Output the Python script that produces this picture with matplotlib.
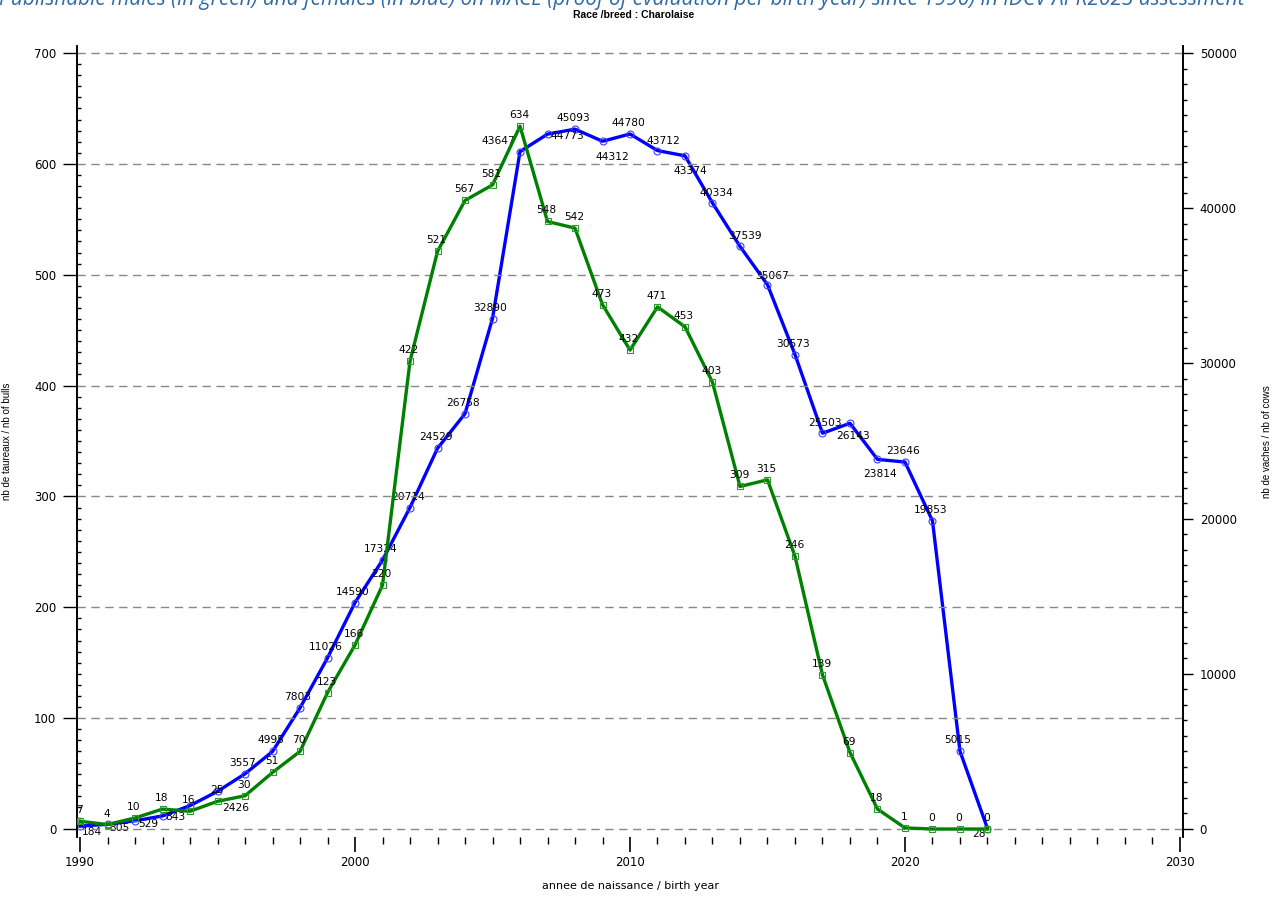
import matplotlib
matplotlib.use("Agg")
import matplotlib.pyplot as plt
from matplotlib.ticker import MultipleLocator

# birth years
years = list(range(1990, 2024))
# nb of bulls (green, left axis)
bulls = [7, 4, 10, 18, 16, 25, 30, 51, 70, 123, 166, 220, 422, 521, 567, 581, 634,
         548, 542, 473, 432, 471, 453, 403, 309, 315, 246, 139, 69, 18, 1, 0, 0, 0]
# nb of cows (blue, right axis)
cows = [184, 305, 529, 843, 1510, 2426, 3557, 4995, 7803, 11026, 14590, 17324, 20714,
        24529, 26758, 32890, 43647, 44773, 45093, 44312, 44780, 43712, 43374, 40334,
        37539, 35067, 30573, 25503, 26143, 23814, 23646, 19853, 5015, 28]
cow_labels = [str(v) for v in cows]
cow_labels[4] = ""   # label hidden in the original

# label offsets (pixels) where the blue label is not just above the point
blue_off = {1990: (12, -6), 1991: (12, -4), 1992: (13, -3), 1993: (13, -1),
            1995: (18, -17), 2006: (-22, 11), 2007: (20, -2), 2009: (10, -16),
            2011: (6, 10), 2012: (5, -15), 2013: (4, 10), 2014: (5, 10), 2015: (5, 9),
            2017: (3, 10), 2018: (3, -13), 2019: (3, -15), 2023: (-9, -5)}

title_top = ("Publishable males (in green) and females (in blue) on MACE (proof of evaluation "
             "per birth year) since 1990) in IDCV APR2023 assessment")

fig = plt.figure(figsize=(12.76, 8.97), dpi=100)
ax = fig.add_axes([77/1276, 60/897, 1106/1276, 791/897])
ax2 = ax.twinx()

green = "#008000"
blue = "#0000ff"

ax2.plot(years, cows, color=blue, lw=2.4, marker="o", ms=5, mfc="none",
         mec="#3d3dff", mew=0.8, zorder=3)
ax.plot(years, bulls, color=green, lw=2.4, marker="s", ms=5, mfc="none",
        mec="#2a9a2a", mew=0.8, zorder=3)

ax.set_zorder(ax2.get_zorder() + 1)
ax.patch.set_visible(False)

for yr, v in zip(years, bulls):
    ax.annotate(str(v), (yr, v), xytext=(-1, 11), textcoords="offset pixels",
                ha="center", va="center", fontsize=7.7, color="black", zorder=5)
for yr, v, lab in zip(years, cows, cow_labels):
    off = blue_off.get(yr, (-2, 11))
    ax2.annotate(lab, (yr, v), xytext=off, textcoords="offset pixels",
                 ha="center", va="center", fontsize=7.7, color="black", zorder=5)

ax.set_xlim(1989.89, 2030.11)
ax.set_ylim(-7.2, 706.3)
ax2.set_ylim(-7.2 / 700 * 50000, 706.3 / 700 * 50000)

for a in (ax, ax2):
    a.spines["top"].set_visible(False)
    a.spines["bottom"].set_visible(False)
    a.spines["left"].set_linewidth(1.2)
    a.spines["right"].set_linewidth(1.2)

ax.xaxis.set_major_locator(MultipleLocator(10))
ax.xaxis.set_minor_locator(MultipleLocator(1))
ax.yaxis.set_major_locator(MultipleLocator(100))
ax.yaxis.set_minor_locator(MultipleLocator(10))
ax2.yaxis.set_major_locator(MultipleLocator(10000))
ax2.yaxis.set_minor_locator(MultipleLocator(1000))

ax.tick_params(axis="x", which="major", direction="out", length=11, width=1.2,
               labelsize=8.5, pad=3)
ax.tick_params(axis="x", which="minor", direction="out", length=5, width=1)
ax.tick_params(axis="y", which="major", direction="out", length=10, width=1,
               labelsize=8.5, pad=5)
ax.tick_params(axis="y", which="minor", direction="in", length=3, width=1)
ax2.tick_params(axis="y", which="major", direction="out", length=7, width=1,
                labelsize=8.5, pad=5)
ax2.tick_params(axis="y", which="minor", direction="out", length=3, width=1)

ax.grid(axis="y", which="major", color="#888888", lw=1, linestyle=(0, (6, 4)))
ax.set_axisbelow(True)

ax.set_xlabel("annee de naissance / birth year", fontsize=8, va="center")
ax.xaxis.set_label_coords(0.5, -0.062)
ax.set_ylabel("nb de taureaux / nb of bulls", fontsize=7, family="Liberation Sans")
ax.yaxis.set_label_coords(-0.059, 0.5)
ax2.set_ylabel("nb de vaches / nb of cows", fontsize=7, family="Liberation Sans")
ax2.yaxis.set_label_coords(1.071, 0.5)

fig.text(634/1276, 1 - 15/897, "Race /breed : Charolaise", ha="center", va="center",
         fontsize=7.5, fontweight="bold", family="Liberation Sans")
fig.text(-0.001, 1.0, title_top, ha="left", va="center", fontsize=15,
         style="italic", color="#2f6aa6", family="Open Sans")

fig.savefig("out.png", dpi=100)
